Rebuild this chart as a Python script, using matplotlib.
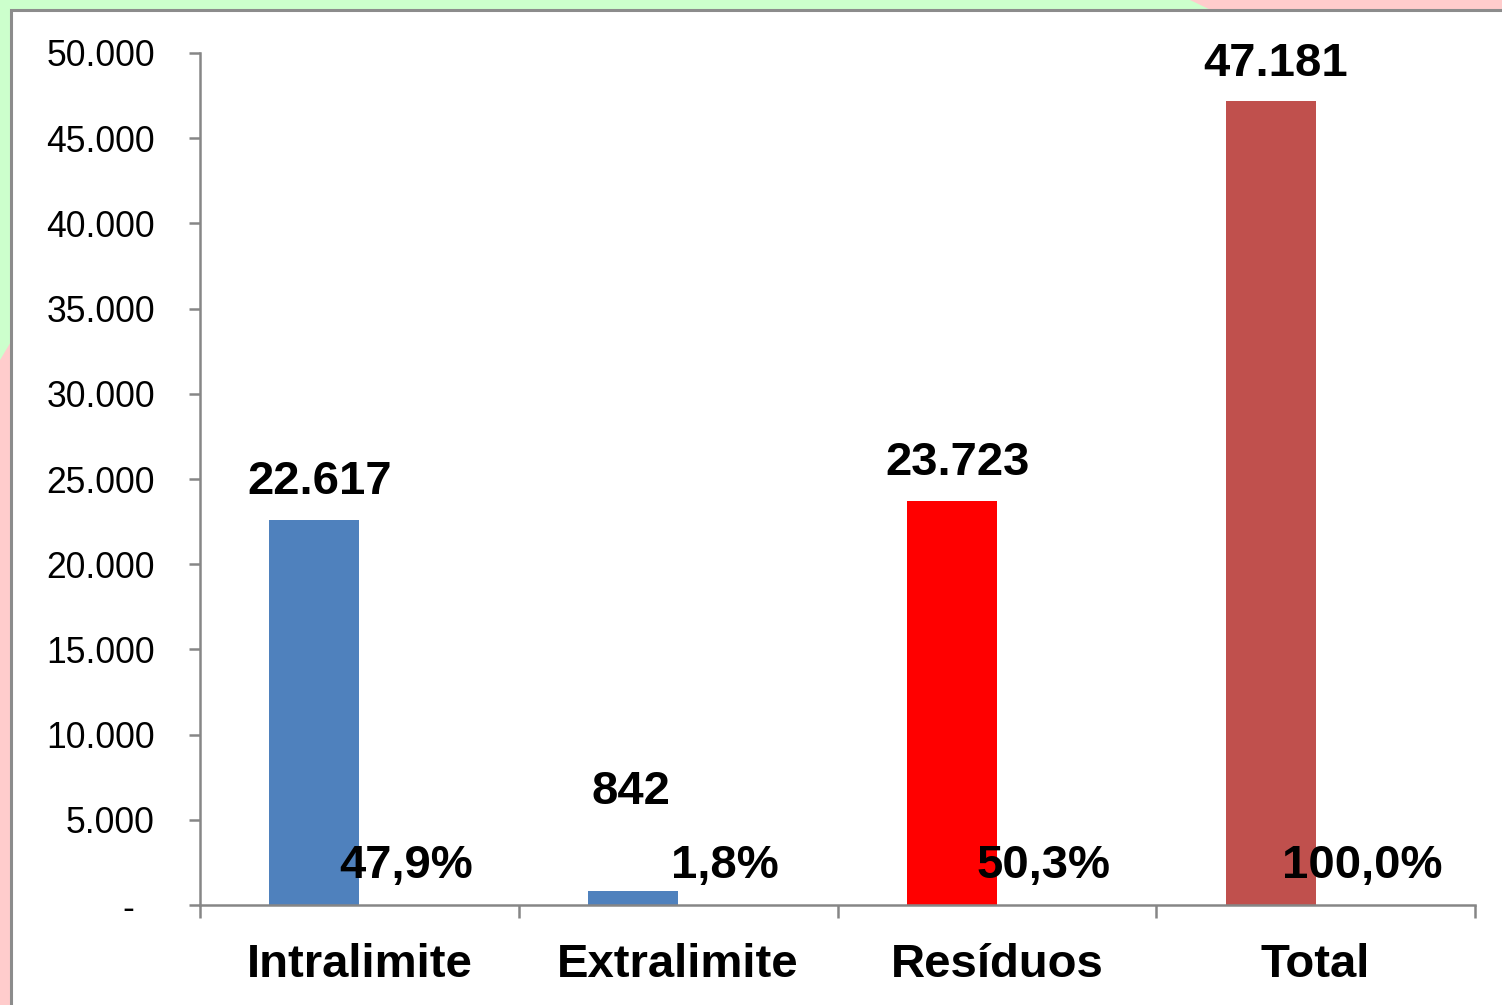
import matplotlib
matplotlib.use("Agg")
import matplotlib.pyplot as plt
from matplotlib.patches import Rectangle, Polygon
from matplotlib.ticker import FixedLocator

categories = ["Intralimite", "Extralimite", "Resíduos", "Total"]
values = [22617, 842, 23723, 47181]
value_labels = ["22.617", "842", "23.723", "47.181"]
percents = [47.9, 1.8, 50.3, 100.0]
percent_labels = ["47,9%", "1,8%", "50,3%", "100,0%"]
bar_colors = ["#4F81BD", "#4F81BD", "#FF0000", "#C0504D"]
y_ticks = [0, 5000, 10000, 15000, 20000, 25000, 30000, 35000, 40000, 45000, 50000]

W, H = 1502, 1005
fig = plt.figure(figsize=(W / 100, H / 100), dpi=100)

def px(x, y):
    return (x / W, 1 - y / H)

# background
fig.patches.append(Rectangle((0, 0), 1, 1, transform=fig.transFigure,
                             facecolor="#FFCCCC", edgecolor="none", zorder=-10))
green = [px(0, 0), px(1190, 0), px(1215, 12), px(12, 12), px(12, 340), px(0, 360)]
fig.patches.append(Polygon(green, closed=True, transform=fig.transFigure,
                           facecolor="#CCFFCC", edgecolor="none", zorder=-9))
x0, y0 = px(11, 10)
fig.patches.append(Rectangle((x0, -0.05), 1.1, y0 + 0.05, transform=fig.transFigure,
                             facecolor="white", edgecolor="#8C8C8C", linewidth=2.2, zorder=-8))

FONT = "Liberation Sans"
ax_left, ax_right, ax_top, ax_bottom = 200, 1475, 53, 905
ax = fig.add_axes([ax_left / W, 1 - ax_bottom / H, (ax_right - ax_left) / W, (ax_bottom - ax_top) / H])
ax.set_facecolor("none")

n = len(categories)
bw = 90 / ((ax_right - ax_left) / n)
centers = [i + 0.5 for i in range(n)]
ax.bar([c - bw / 2 for c in centers], values, width=bw, color=bar_colors, zorder=2)
ax.bar([c + bw / 2 for c in centers], percents, width=bw, color="none", zorder=2)

ax.set_xlim(0, n)
ax.set_ylim(0, 50000)

offsets = [2200, 5800, 2200, 2150]
xshift = [3.8, -1.5, 3.8, 3.8]
for c, v, lab, off, xs in zip(centers, values, value_labels, offsets, xshift):
    ax.annotate(lab, (c - bw / 2, v + off), xytext=(xs, 0), textcoords="offset points",
                ha="center", va="center", fontsize=34, fontweight="bold", family=FONT, zorder=3)
for c, p, lab in zip(centers, percents, percent_labels):
    ax.annotate(lab, (c + bw / 2, 2300), xytext=(1.5, 0), textcoords="offset points",
                ha="center", va="center", fontsize=34, fontweight="bold", family=FONT, zorder=3)

for s in ["top", "right"]:
    ax.spines[s].set_visible(False)
for s in ["left", "bottom"]:
    ax.spines[s].set_color("#868686")
    ax.spines[s].set_linewidth(1.8)

ax.yaxis.set_major_locator(FixedLocator(y_ticks))
ylabels = ["-  " if t == 0 else f"{t:,}".replace(",", ".") for t in y_ticks]
ax.set_yticklabels(ylabels, fontsize=25.6, family=FONT)
ax.tick_params(axis="y", length=8, width=1.8, color="#868686", pad=24.5)

ax.set_xticks(centers)
ax.set_xticklabels(categories, fontsize=34, fontweight="bold", family=FONT)
ax.xaxis.set_minor_locator(FixedLocator(list(range(n + 1))))
ax.tick_params(axis="x", which="major", length=0, pad=27.5)
ax.tick_params(axis="x", which="minor", length=9, width=1.8, color="#868686")

fig.savefig("out.png", dpi=100)
